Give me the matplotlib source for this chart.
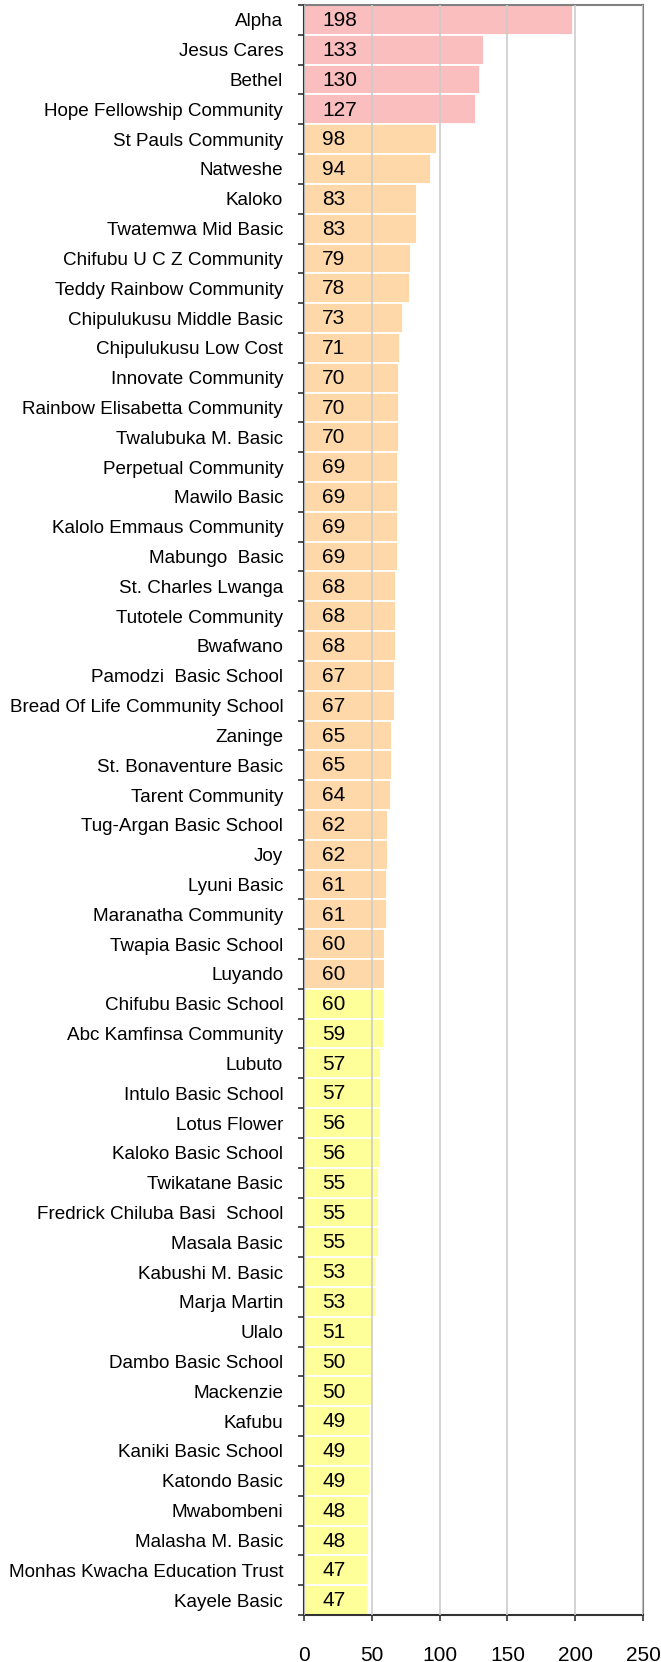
import matplotlib.pyplot as plt

plt.rcParams['font.family'] = ['Liberation Sans', 'DejaVu Sans']

# School names, top to bottom
schools = [
    'Alpha', 'Jesus Cares', 'Bethel', 'Hope Fellowship Community',
    'St Pauls Community', 'Natweshe', 'Kaloko', 'Twatemwa Mid Basic',
    'Chifubu U C Z Community', 'Teddy Rainbow Community',
    'Chipulukusu Middle Basic', 'Chipulukusu Low Cost', 'Innovate Community',
    'Rainbow Elisabetta Community', 'Twalubuka M. Basic', 'Perpetual Community',
    'Mawilo Basic', 'Kalolo Emmaus Community', 'Mabungo  Basic',
    'St. Charles Lwanga', 'Tutotele Community', 'Bwafwano',
    'Pamodzi  Basic School', 'Bread Of Life Community School', 'Zaninge',
    'St. Bonaventure Basic', 'Tarent Community', 'Tug-Argan Basic School',
    'Joy', 'Lyuni Basic', 'Maranatha Community', 'Twapia Basic School',
    'Luyando', 'Chifubu Basic School', 'Abc Kamfinsa Community', 'Lubuto',
    'Intulo Basic School', 'Lotus Flower', 'Kaloko Basic School',
    'Twikatane Basic', 'Fredrick Chiluba Basi  School', 'Masala Basic',
    'Kabushi M. Basic', 'Marja Martin', 'Ulalo', 'Dambo Basic School',
    'Mackenzie', 'Kafubu', 'Kaniki Basic School', 'Katondo Basic',
    'Mwabombeni', 'Malasha M. Basic', 'Monhas Kwacha Education Trust',
    'Kayele Basic',
]
values = [
    198, 133, 130, 127, 98, 94, 83, 83, 79, 78, 73, 71, 70, 70, 70, 69, 69,
    69, 69, 68, 68, 68, 67, 67, 65, 65, 64, 62, 62, 61, 61, 60, 60, 60, 59,
    57, 57, 56, 56, 55, 55, 55, 53, 53, 51, 50, 50, 49, 49, 49, 48, 48, 47, 47,
]
# colour group of each bar: 0 = pink, 1 = peach, 2 = yellow
groups = [0] * 4 + [1] * 29 + [2] * 21
palette = ['#F9BEBD', '#FFD8AA', '#FFFF99']

fig = plt.figure(figsize=(6.61, 16.62), dpi=100)
ax = fig.add_axes([0.4599, 0.0283, 0.5129, 0.9687])

n = len(schools)
ypos = list(range(n))
colors = [palette[g] for g in groups]
ax.barh(ypos, values, height=1.0, color=colors, edgecolor='white',
        linewidth=1.3, zorder=2)

for y, v in zip(ypos, values):
    ax.annotate(str(v), (0, y), xytext=(13, -0.5), textcoords='offset points',
                ha='left', va='center', fontsize=15, color='black', zorder=4)

ax.set_ylim(n - 0.5, -0.5)
ax.set_xlim(0, 250)
ax.set_xticks([0, 50, 100, 150, 200, 250])
ax.set_yticks(ypos)
ax.set_yticklabels(schools, fontsize=13.6)
ax.set_yticks([i - 0.5 for i in range(n + 1)], minor=True)

ax.grid(axis='x', color='#CCCCCC', linewidth=1.2, zorder=3)
ax.set_axisbelow(False)
for line in ax.get_xgridlines():
    line.set_zorder(3)

ax.tick_params(axis='y', which='major', length=0, pad=15)
ax.tick_params(axis='y', which='minor', length=4, width=1.2, color='#333333')
ax.tick_params(axis='x', length=4, width=1.2, color='#333333', pad=18,
               labelsize=15)

for side in ['top', 'right']:
    ax.spines[side].set_color('#808080')
    ax.spines[side].set_linewidth(1.5)
for side in ['left', 'bottom']:
    ax.spines[side].set_color('#333333')
    ax.spines[side].set_linewidth(1.5)

plt.savefig('out.png', dpi=100)
